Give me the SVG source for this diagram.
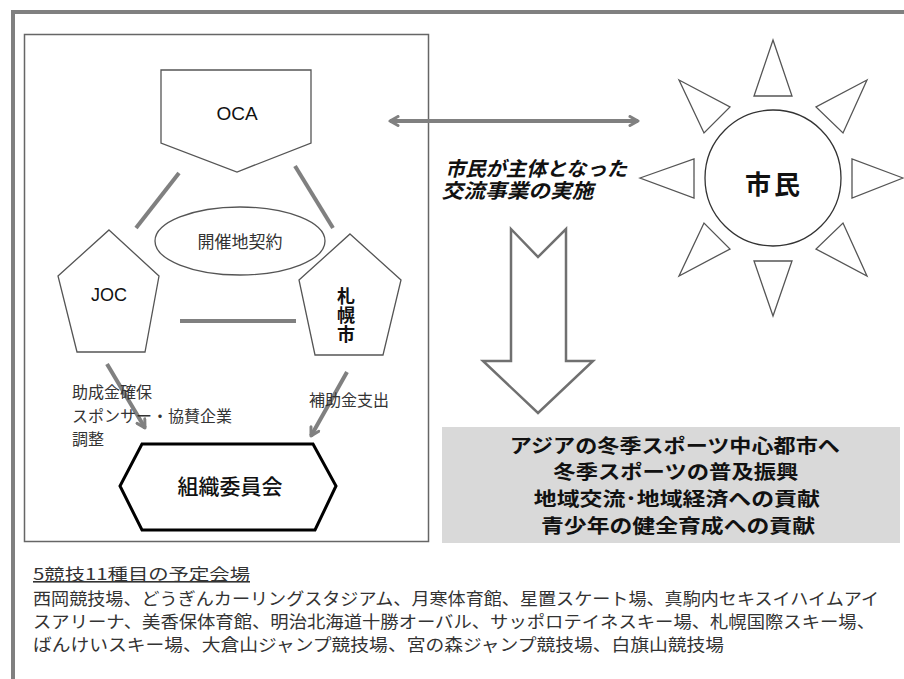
<svg xmlns="http://www.w3.org/2000/svg" width="904" height="679" viewBox="0 0 904 679">
<defs>
<style>
.shape{fill:#fff;stroke:#555;stroke-width:1.3}
.conn{stroke:#808080;stroke-width:4;fill:none}
.lat{font-family:"Liberation Sans",Arial,sans-serif;fill:#111}
.jp{font-family:"Noto Sans CJK JP","Noto Sans",sans-serif;fill:#333}
.jpb{font-family:"Noto Sans CJK JP","Noto Sans",sans-serif;fill:#111;font-weight:bold}
</style>
<marker id="chev" viewBox="0 0 12 12" refX="10" refY="6" markerWidth="12" markerHeight="12" markerUnits="userSpaceOnUse" orient="auto-start-reverse">
<path d="M2,1.5 L10,6 L2,10.5" fill="none" stroke="#808080" stroke-width="3" stroke-linecap="round" stroke-linejoin="round"/>
</marker>
</defs>
<rect width="904" height="679" fill="#fff"/>
<rect x="13" y="12" width="960" height="720" fill="none" stroke="#808080" stroke-width="4"/>
<rect x="24.5" y="34.5" width="404" height="507" fill="none" stroke="#666" stroke-width="1.5"/>

<g id="oca">
<polygon class="shape" points="161,70 311,70 311,143 237,172 161,143"/>
<text class="lat" x="237" y="120" font-size="19" text-anchor="middle">OCA</text>
</g>
<g id="kaisai">
<ellipse class="shape" cx="240" cy="241" rx="85" ry="34"/>
<text class="jp" x="240" y="248" font-size="17" text-anchor="middle">開催地契約</text>
</g>
<g id="joc">
<polygon class="shape" points="109,230 159,276 145,352 77,352 58,276"/>
<text class="lat" x="109" y="301" font-size="18" text-anchor="middle">JOC</text>
</g>
<g id="sapporo">
<polygon class="shape" points="350,234 401,280 383,355 315,355 299,280"/>
<text class="jpb" x="346" y="287" font-size="18" writing-mode="tb" style="writing-mode:vertical-rl" letter-spacing="1">札幌市</text>
</g>
<g id="soshiki">
<polygon points="142,444 313,444 336,486 315,530 142,530 120,486" fill="#fff" stroke="#000" stroke-width="3" stroke-linejoin="miter"/>
<text class="jpb" x="230" y="494" font-size="21" text-anchor="middle" style="font-weight:500">組織委員会</text>
</g>

<g id="connectors">
<line class="conn" x1="179" y1="173" x2="136" y2="228"/>
<line class="conn" x1="295" y1="166" x2="333" y2="228"/>
<line class="conn" x1="180" y1="321" x2="296" y2="321"/>
<line class="conn" x1="107" y1="364" x2="145" y2="428" marker-end="url(#chev)"/>
<line class="conn" x1="347" y1="372" x2="311" y2="436" marker-end="url(#chev)"/>
<line class="conn" x1="390" y1="121" x2="638" y2="121" marker-start="url(#chev)" marker-end="url(#chev)"/>
</g>

<g id="labels">
<text class="jp" font-size="16"><tspan x="72" y="398">助成金確保</tspan><tspan x="72" y="422">スポンサー・協賛企業</tspan><tspan x="72" y="445">調整</tspan></text>
<text class="jp" x="309" y="406" font-size="16">補助金支出</text>
</g>

<g id="koryu" transform="translate(443,176) skewX(-14)">
<text class="jpb" font-size="20"><tspan x="2" y="0" textLength="182" lengthAdjust="spacingAndGlyphs">市民が主体となった</tspan><tspan x="4" y="22" textLength="152" lengthAdjust="spacingAndGlyphs">交流事業の実施</tspan></text>
</g>

<g id="shimin">
<circle cx="773" cy="178" r="68" fill="#fff" stroke="#333" stroke-width="1.3"/>
<polygon class="shape" points="773,40 792,96 754,96"/>
<polygon class="shape" points="773,316 792,261 754,261"/>
<polygon class="shape" points="640,178 694,159 694,198"/>
<polygon class="shape" points="903,178 852,159 852,198"/>
<polygon class="shape" points="679,80 730,107 704,133"/>
<polygon class="shape" points="867,80 816,107 843,133"/>
<polygon class="shape" points="679,276 704,223 730,249"/>
<polygon class="shape" points="867,276 843,223 816,249"/>
<text class="jpb" x="774" y="194" font-size="26" text-anchor="middle" letter-spacing="3">市民</text>
</g>

<g id="bigarrow">
<polygon points="511,229 538,257 566,229 566,361 593,361 538,413 483,361 511,361" fill="#fff" stroke="#707070" stroke-width="2.5" stroke-linejoin="miter"/>
</g>

<g id="goals">
<rect x="442" y="427" width="458" height="116" fill="#d9d9d9"/>
<text class="jpb" font-size="19" text-anchor="middle">
<tspan x="677" y="453" textLength="330" lengthAdjust="spacingAndGlyphs">アジアの冬季スポーツ中心都市へ</tspan>
<tspan x="678" y="479" textLength="245" lengthAdjust="spacingAndGlyphs">冬季スポーツの普及振興</tspan>
<tspan x="679" y="506" textLength="286" lengthAdjust="spacingAndGlyphs">地域交流･地域経済への貢献</tspan>
<tspan x="678" y="533" textLength="274" lengthAdjust="spacingAndGlyphs">青少年の健全育成への貢献</tspan>
</text>
</g>

<g id="venues">
<text class="jp" x="33" y="580" font-size="16" text-decoration="underline" textLength="217" lengthAdjust="spacingAndGlyphs">5競技11種目の予定会場</text>
<text class="jp" font-size="17">
<tspan x="33" y="605" textLength="846" lengthAdjust="spacingAndGlyphs">西岡競技場、どうぎんカーリングスタジアム、月寒体育館、星置スケート場、真駒内セキスイハイムアイ</tspan>
<tspan x="33" y="628" textLength="842" lengthAdjust="spacingAndGlyphs">スアリーナ、美香保体育館、明治北海道十勝オーバル、サッポロテイネスキー場、札幌国際スキー場、</tspan>
<tspan x="33" y="651" textLength="691" lengthAdjust="spacingAndGlyphs">ばんけいスキー場、大倉山ジャンプ競技場、宮の森ジャンプ競技場、白旗山競技場</tspan>
</text>
</g>
</svg>
